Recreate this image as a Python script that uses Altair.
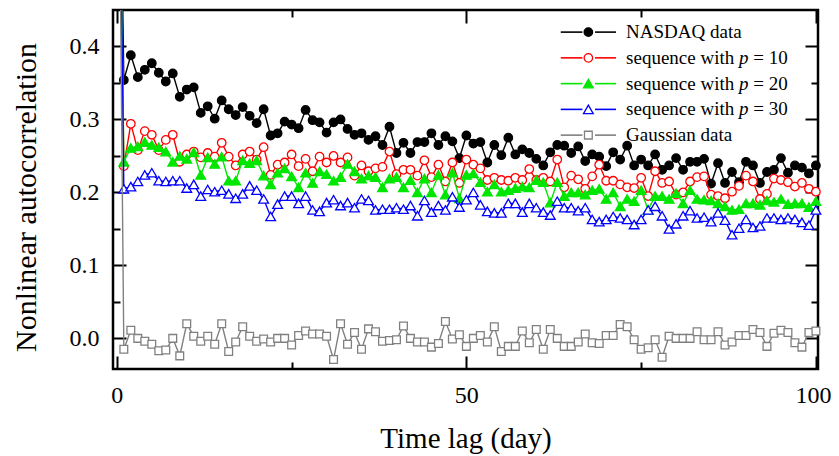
import altair as alt
import pandas as pd

# ---------------- data ----------------
lags = list(range(0, 101))

nasdaq = [1.0,
    0.354, 0.388, 0.358, 0.368, 0.377, 0.364, 0.352, 0.363, 0.331, 0.341,
    0.344, 0.309, 0.318, 0.301, 0.326, 0.314, 0.306, 0.317, 0.305, 0.295,
    0.314, 0.278, 0.281, 0.297, 0.293, 0.288, 0.313, 0.299, 0.296, 0.282,
    0.296, 0.300, 0.287, 0.279, 0.281, 0.272, 0.277, 0.265, 0.290, 0.254,
    0.268, 0.254, 0.269, 0.269, 0.281, 0.265, 0.277, 0.270, 0.247, 0.278,
    0.267, 0.269, 0.241, 0.265, 0.251, 0.275, 0.252, 0.259, 0.254, 0.246,
    0.237, 0.255, 0.265, 0.264, 0.254, 0.263, 0.243, 0.252, 0.249, 0.236,
    0.255, 0.245, 0.264, 0.237, 0.245, 0.237, 0.252, 0.231, 0.237, 0.247,
    0.231, 0.242, 0.242, 0.246, 0.212, 0.240, 0.213, 0.228, 0.214, 0.242,
    0.237, 0.213, 0.228, 0.231, 0.247, 0.227, 0.237, 0.234, 0.226, 0.237]

seq_p10 = [1.0,
    0.236, 0.294, 0.258, 0.284, 0.279, 0.258, 0.272, 0.279, 0.242, 0.252,
    0.256, 0.248, 0.254, 0.249, 0.268, 0.249, 0.237, 0.252, 0.256, 0.245,
    0.262, 0.224, 0.238, 0.241, 0.252, 0.236, 0.246, 0.229, 0.249, 0.241,
    0.250, 0.241, 0.248, 0.223, 0.237, 0.229, 0.233, 0.235, 0.256, 0.225,
    0.231, 0.231, 0.223, 0.244, 0.221, 0.238, 0.215, 0.241, 0.213, 0.245,
    0.238, 0.233, 0.217, 0.220, 0.217, 0.216, 0.220, 0.217, 0.232, 0.217,
    0.220, 0.215, 0.245, 0.207, 0.223, 0.218, 0.205, 0.222, 0.238, 0.216,
    0.216, 0.211, 0.207, 0.206, 0.220, 0.195, 0.229, 0.213, 0.215, 0.197,
    0.200, 0.215, 0.221, 0.222, 0.197, 0.195, 0.192, 0.201, 0.209, 0.223,
    0.215, 0.191, 0.198, 0.219, 0.217, 0.214, 0.208, 0.213, 0.205, 0.201]

seq_p20 = [1.0,
    0.242, 0.261, 0.263, 0.269, 0.265, 0.262, 0.256, 0.242, 0.250, 0.246,
    0.255, 0.224, 0.248, 0.239, 0.249, 0.216, 0.216, 0.244, 0.240, 0.244,
    0.223, 0.211, 0.227, 0.233, 0.222, 0.207, 0.227, 0.213, 0.229, 0.225,
    0.216, 0.221, 0.239, 0.229, 0.219, 0.223, 0.221, 0.207, 0.219, 0.221,
    0.207, 0.217, 0.200, 0.219, 0.200, 0.224, 0.197, 0.227, 0.192, 0.224,
    0.226, 0.214, 0.201, 0.211, 0.201, 0.203, 0.206, 0.208, 0.207, 0.217,
    0.214, 0.186, 0.214, 0.195, 0.200, 0.200, 0.197, 0.203, 0.205, 0.191,
    0.200, 0.181, 0.191, 0.188, 0.203, 0.176, 0.195, 0.195, 0.191, 0.199,
    0.185, 0.203, 0.191, 0.190, 0.189, 0.185, 0.181, 0.176, 0.177, 0.185,
    0.185, 0.183, 0.189, 0.187, 0.191, 0.184, 0.185, 0.185, 0.180, 0.188]

seq_p30 = [1.0,
    0.205, 0.208, 0.215, 0.224, 0.227, 0.216, 0.215, 0.216, 0.216, 0.206,
    0.211, 0.195, 0.204, 0.201, 0.203, 0.198, 0.192, 0.198, 0.209, 0.203,
    0.191, 0.167, 0.184, 0.195, 0.195, 0.185, 0.195, 0.176, 0.174, 0.186,
    0.190, 0.182, 0.186, 0.179, 0.191, 0.189, 0.176, 0.177, 0.177, 0.179,
    0.177, 0.182, 0.168, 0.189, 0.173, 0.182, 0.176, 0.194, 0.180, 0.190,
    0.200, 0.183, 0.174, 0.172, 0.172, 0.185, 0.185, 0.173, 0.185, 0.179,
    0.173, 0.169, 0.188, 0.179, 0.179, 0.175, 0.179, 0.163, 0.160, 0.163,
    0.167, 0.165, 0.163, 0.156, 0.163, 0.176, 0.181, 0.168, 0.150, 0.157,
    0.168, 0.175, 0.165, 0.166, 0.160, 0.172, 0.162, 0.142, 0.151, 0.163,
    0.152, 0.154, 0.165, 0.165, 0.163, 0.165, 0.163, 0.159, 0.155, 0.176]

gaussian = [1.0,
    -0.015, 0.011, 0.000, -0.004, -0.008, -0.017, -0.016, 0.000, -0.024, 0.020,
    0.003, -0.004, 0.003, -0.008, 0.020, -0.018, -0.005, 0.016, 0.003, -0.004,
    -0.001, -0.005, 0.000, 0.000, -0.009, 0.004, 0.010, 0.006, 0.006, 0.003,
    -0.029, 0.020, -0.008, 0.008, -0.015, 0.013, 0.009, -0.004, -0.003, -0.002,
    0.017, 0.000, -0.005, -0.005, -0.012, -0.007, 0.023, -0.001, 0.005, -0.011,
    0.000, 0.004, -0.005, 0.016, -0.018, -0.011, -0.011, 0.010, -0.006, 0.012,
    -0.015, 0.012, 0.000, -0.011, -0.011, -0.005, 0.006, -0.006, -0.007, 0.004,
    0.004, 0.019, 0.016, -0.002, -0.015, -0.013, -0.002, -0.026, 0.003, 0.000,
    0.000, 0.000, 0.009, -0.002, -0.002, 0.009, -0.009, -0.005, 0.004, 0.004,
    0.012, 0.008, -0.011, 0.007, 0.011, 0.008, -0.006, -0.012, 0.008, 0.010]

series_labels = ["NASDAQ data", "sequence with p = 10", "sequence with p = 20",
                 "sequence with p = 30", "Gaussian data"]
p_values = [None, "10", "20", "30", None]

x_tick_values = [0, 25, 50, 75, 100]
y_tick_values = [0.0, 0.05, 0.1, 0.15, 0.2, 0.25, 0.3, 0.35, 0.4]

# ---------------- styling ----------------
FONT = "Liberation Serif"
styles = [
    dict(color="#000000", shape="circle", fill="#000000", size=72),
    dict(color="#ff0000", shape="circle", fill="#ffffff", size=72),
    dict(color="#00e600", shape="triangle-up", fill="#00e600", size=95),
    dict(color="#0000ff", shape="triangle-up", fill="#ffffff", size=95),
    dict(color="#808080", shape="square", fill="#ffffff", size=60),
]
all_values = [nasdaq, seq_p10, seq_p20, seq_p30, gaussian]

xs = alt.Scale(domain=[-0.55, 100.3], nice=False, zero=False)
ys = alt.Scale(domain=[-0.042, 0.45], nice=False, zero=False)

y_major = "abs(datum.value*10 - round(datum.value*10)) < 0.001"
x_major = "abs(datum.value/50 - round(datum.value/50)) < 0.001"

axis_common = dict(domain=False, grid=False, tickColor="black", tickWidth=2,
                   labelFont=FONT, labelColor="black", labelFontSize=24,
                   titleFont=FONT, titleColor="black",
                   titleFontWeight="normal")

y_left = alt.Axis(orient="left", values=y_tick_values,
                  tickSize={"expr": f"{y_major} ? -13 : -7"},
                  labelExpr=f"{y_major} ? format(datum.value, '.1f') : ''",
                  labelPadding=27, title="Nonlinear autocorrelation",
                  titleFontSize=30,
                  titleX=-78, titleY=187, titleBaseline="alphabetic",
                  titleAngle=270, **axis_common)
x_bottom = alt.Axis(orient="bottom", values=x_tick_values,
                    tickSize={"expr": f"{x_major} ? -13 : -7"},
                    labelExpr=f"{x_major} ? format(datum.value, 'd') : ''",
                    labelOffset={"condition": {"test": "datum.value == 100", "value": -3},
                                 "value": 0},
                    labelPadding=27, labelFlush=False, labelOverlap=False,
                    title="Time lag (day)", titleFontSize=29,
                    titleX=352.5, titleY=78,
                    titleBaseline="alphabetic", **axis_common)
y_right = alt.Axis(orient="right", values=y_tick_values,
                   tickSize={"expr": f"{y_major} ? -13 : -7"},
                   labels=False, title=None, **axis_common)
x_top = alt.Axis(orient="top", values=x_tick_values,
                 tickSize={"expr": f"{x_major} ? -13 : -7"},
                 labels=False, title=None, **axis_common)

# legend geometry (in data units of the plot)
LEG_ROWS = [0.4197, 0.3844, 0.3491, 0.3138, 0.2785]
LEG_SEG1 = (63.5, 66.6)
LEG_SEG2 = (68.4, 71.4)
LEG_MARK = 67.45
LEG_TEXT = 72.85
LEG_FS = 19

layers = []
for i, (vals, st, label) in enumerate(zip(all_values, styles, series_labels)):
    df = pd.DataFrame({"lag": lags, "value": vals})
    if i == 0:
        xa_line, ya_line, xa_pt, ya_pt = x_bottom, y_left, x_top, y_right
    else:
        xa_line = ya_line = xa_pt = ya_pt = None
    line = alt.Chart(df).mark_line(color=st["color"], strokeWidth=1.4, clip=True).encode(
        x=alt.X("lag:Q", scale=xs, axis=xa_line),
        y=alt.Y("value:Q", scale=ys, axis=ya_line),
    )
    pts = alt.Chart(df[df["lag"] > 0]).mark_point(
        shape=st["shape"], filled=True, fill=st["fill"], stroke=st["color"],
        strokeWidth=1.3, size=st["size"], opacity=1,
    ).encode(
        x=alt.X("lag:Q", scale=xs, axis=xa_pt),
        y=alt.Y("value:Q", scale=ys, axis=ya_pt),
    )
    layers += [line, pts]

    # legend entry
    ly = LEG_ROWS[i]
    seg = pd.DataFrame({"x": [LEG_SEG1[0], LEG_SEG2[0]], "x2": [LEG_SEG1[1], LEG_SEG2[1]],
                        "y": [ly, ly]})
    layers.append(alt.Chart(seg).mark_rule(color=st["color"], strokeWidth=1.6).encode(
        x=alt.X("x:Q", scale=xs, axis=None), x2="x2:Q",
        y=alt.Y("y:Q", scale=ys, axis=None)))
    mk = pd.DataFrame({"x": [LEG_MARK], "y": [ly]})
    layers.append(alt.Chart(mk).mark_point(
        shape=st["shape"], filled=True, fill=st["fill"], stroke=st["color"],
        strokeWidth=1.3, size=st["size"], opacity=1).encode(
        x=alt.X("x:Q", scale=xs, axis=None), y=alt.Y("y:Q", scale=ys, axis=None)))
    if p_values[i] is None:
        parts = [(label, 0, "normal")]
    else:
        w1 = 5.943 * LEG_FS
        parts = [("sequence with", 0, "normal"), ("p", w1, "italic"),
                 ("= " + p_values[i], w1 + 0.5 * LEG_FS + 0.25 * LEG_FS, "normal")]
    for txt, dx, style in parts:
        tdf = pd.DataFrame({"x": [LEG_TEXT], "y": [ly], "t": [txt]})
        layers.append(alt.Chart(tdf).mark_text(
            align="left", baseline="middle", font=FONT, fontSize=LEG_FS,
            fontStyle=style, dx=dx, color="black").encode(
            x=alt.X("x:Q", scale=xs, axis=None), y=alt.Y("y:Q", scale=ys, axis=None),
            text="t:N"))

chart = alt.layer(*layers).resolve_axis(x="independent", y="independent").properties(
    width=705, height=359,
    autosize=alt.AutoSizeParams(type="none"),
    padding={"left": 105, "top": 2, "right": 13, "bottom": 86},
    background="white",
).configure_view(stroke="black", strokeWidth=2.5)

chart.save("out.html", embed_options={"renderer": "svg", "actions": False})
